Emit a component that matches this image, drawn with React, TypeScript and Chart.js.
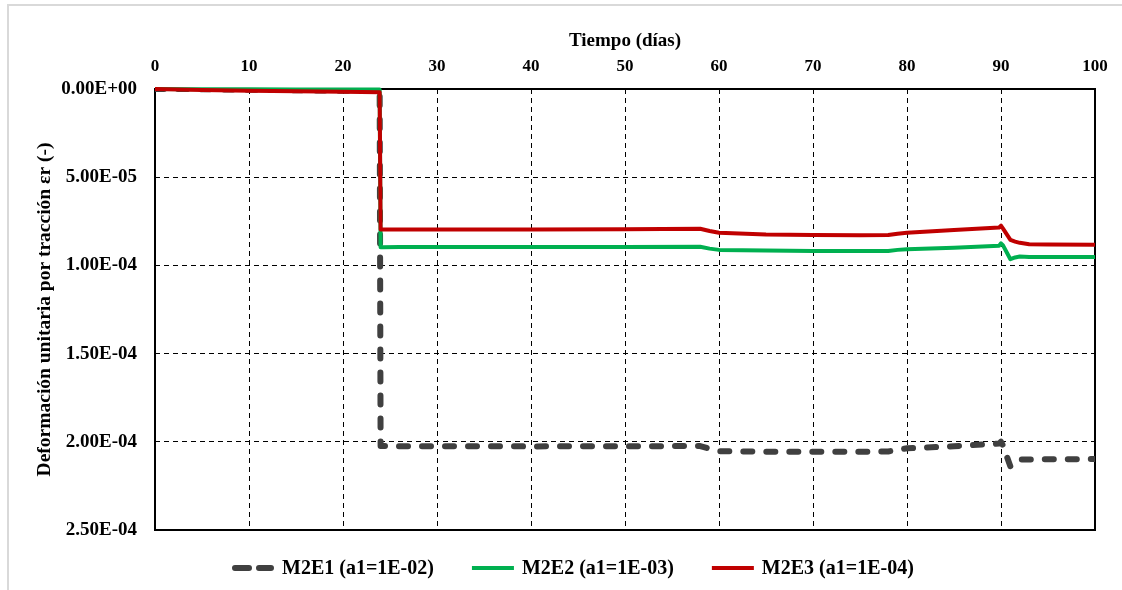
import { useEffect, useRef } from "react";
import { Chart, registerables } from "chart.js";

Chart.register(...registerables);

const FONT = "'Liberation Serif', 'Times New Roman', serif";

// Time (days)
const time = [0, 5, 10, 15, 20, 23.9, 24.0, 24.2, 26, 30, 40, 50, 58, 59, 60, 65, 70, 75, 78, 79, 80, 85, 89.8, 90.0, 90.2, 91, 91.5, 92, 93, 95, 100];

// M2E1 (a1=1E-02)
const m2e1 = [0, 0.1e-6, 0.4e-6, 0.7e-6, 1.0e-6, 1.2e-6, 2.024e-4, 2.024e-4, 2.025e-4, 2.025e-4, 2.026e-4, 2.025e-4, 2.024e-4, 2.04e-4, 2.053e-4, 2.056e-4, 2.056e-4, 2.056e-4, 2.055e-4, 2.045e-4, 2.037e-4, 2.025e-4, 2.01e-4, 2.0e-4, 2.02e-4, 2.14e-4, 2.12e-4, 2.1e-4, 2.1e-4, 2.099e-4, 2.098e-4];

// M2E2 (a1=1E-03)
const m2e2 = [0, 0.1e-6, 0.2e-6, 0.25e-6, 0.3e-6, 0.3e-6, 8.97e-5, 8.97e-5, 8.96e-5, 8.96e-5, 8.96e-5, 8.95e-5, 8.94e-5, 9.05e-5, 9.12e-5, 9.16e-5, 9.18e-5, 9.18e-5, 9.18e-5, 9.12e-5, 9.08e-5, 9.0e-5, 8.88e-5, 8.75e-5, 8.85e-5, 9.65e-5, 9.55e-5, 9.5e-5, 9.52e-5, 9.52e-5, 9.52e-5];

// M2E3 (a1=1E-04)
const m2e3 = [0, 0.6e-6, 1.0e-6, 1.3e-6, 1.6e-6, 1.8e-6, 7.97e-5, 7.97e-5, 7.97e-5, 7.97e-5, 7.97e-5, 7.95e-5, 7.92e-5, 8.05e-5, 8.15e-5, 8.25e-5, 8.28e-5, 8.29e-5, 8.28e-5, 8.2e-5, 8.15e-5, 8.0e-5, 7.85e-5, 7.75e-5, 7.9e-5, 8.55e-5, 8.65e-5, 8.72e-5, 8.8e-5, 8.82e-5, 8.83e-5];

const seriesLabels = ["M2E1 (a1=1E-02)", "M2E2 (a1=1E-03)", "M2E3 (a1=1E-04)"];
const seriesColors = ["#404040", "#00b050", "#c00000"];

const xTitle = "Tiempo (días)";
const yTitle = "Deformación unitaria por tracción εr (-)";

function fmtExp(v: number): string {
  const [m, e] = Number(v).toExponential(2).split("e");
  const sign = e[0] === "-" ? "-" : "+";
  const digits = e.replace(/^[+-]/, "").padStart(2, "0");
  return `${m}E${sign}${digits}`;
}

const framePlugin = {
  id: "frame",
  beforeDatasetsDraw(chart: any) {
    const { ctx, chartArea: a } = chart;
    ctx.save();
    ctx.strokeStyle = "#000";
    ctx.lineWidth = 2;
    ctx.setLineDash([]);
    ctx.strokeRect(a.left, a.top, a.right - a.left, a.bottom - a.top);
    ctx.restore();
  },
};

const legendPlugin = {
  id: "customLegend",
  afterDraw(chart: any) {
    const { ctx } = chart;
    const y = 568;
    let x = 232;
    ctx.save();
    ctx.font = `bold 20px ${FONT}`;
    ctx.textBaseline = "middle";
    ctx.textAlign = "left";
    chart.data.datasets.forEach((ds: any) => {
      const sw = 42;
      const dashed = ds.borderDash && ds.borderDash.length;
      ctx.beginPath();
      ctx.strokeStyle = ds.borderColor;
      ctx.lineWidth = ds.borderWidth;
      ctx.lineCap = dashed ? "round" : "butt";
      ctx.setLineDash(dashed ? [14, 10] : []);
      const inset = dashed ? 3 : 0;
      ctx.moveTo(x + inset, y);
      ctx.lineTo(x + sw - inset, y);
      ctx.stroke();
      ctx.setLineDash([]);
      ctx.fillStyle = "#000";
      ctx.fillText(ds.label, x + sw + 8, y + 1);
      const w = ctx.measureText(ds.label).width;
      x += sw + 8 + w + 38;
    });
    ctx.restore();
  },
};

export default function App() {
  const ref = useRef<HTMLCanvasElement | null>(null);

  useEffect(() => {
    if (!ref.current) return;
    const series = [m2e1, m2e2, m2e3];
    const chart = new Chart(ref.current, {
      type: "line",
      data: {
        datasets: series.map((s, i) => ({
          label: seriesLabels[i],
          data: time.map((t, j) => ({ x: t, y: s[j] })),
          borderColor: seriesColors[i],
          backgroundColor: seriesColors[i],
          borderWidth: i === 0 ? 6 : 4,
          borderDash: i === 0 ? [9, 14] : [],
          borderCapStyle: i === 0 ? "round" : "butt",
          borderJoinStyle: "round",
          pointRadius: 0,
          tension: 0,
          fill: false,
          clip: i === 0 ? 0 : false,
          order: 3 - i,
        })) as any,
      },
      options: {
        animation: false,
        responsive: false,
        devicePixelRatio: 1,
        layout: { padding: { left: 0, top: 0, right: 27, bottom: 60 } },
        plugins: {
          legend: { display: false },
          tooltip: { enabled: false },
        },
        scales: {
          x: {
            type: "linear",
            position: "top",
            min: 0,
            max: 100,
            ticks: {
              stepSize: 10,
              color: "#000",
              padding: 12,
              font: { family: FONT, size: 17, weight: "bold" },
            },
            grid: { color: "#000", lineWidth: 1, drawTicks: false },
            border: { display: false, dash: [5, 4] },
            title: {
              display: true,
              text: xTitle,
              color: "#000",
              padding: { top: 30, bottom: 0 },
              font: { family: FONT, size: 19, weight: "bold" },
            },
            afterFit: (scale: any) => {
              scale.height = 89;
            },
          },
          y: {
            type: "linear",
            reverse: true,
            min: 0,
            max: 0.00025,
            ticks: {
              stepSize: 0.00005,
              color: "#000",
              padding: 18,
              font: { family: FONT, size: 19, weight: "bold" },
              callback: (v: any) => fmtExp(Number(v)),
            },
            grid: { color: "#000", lineWidth: 1, drawTicks: false },
            border: { display: false, dash: [5, 4] },
            title: {
              display: true,
              text: yTitle,
              color: "#000",
              padding: { top: 33, bottom: 0 },
              font: { family: FONT, size: 19.5, weight: "bold" },
            },
            afterFit: (scale: any) => {
              scale.width = 155;
            },
          },
        },
      } as any,
      plugins: [framePlugin, legendPlugin],
    });
    return () => chart.destroy();
  }, []);

  return (
    <>
      <div
        style={{
          position: "fixed",
          left: 7,
          top: 4,
          right: -10,
          bottom: -10,
          borderTop: "2px solid #d9d9d9",
          borderLeft: "2px solid #d9d9d9",
          background: "#fff",
        }}
      />
      <canvas
        ref={ref}
        width={1122}
        height={590}
        style={{ position: "fixed", left: 0, top: 0, width: 1122, height: 590 }}
      />
    </>
  );
}
